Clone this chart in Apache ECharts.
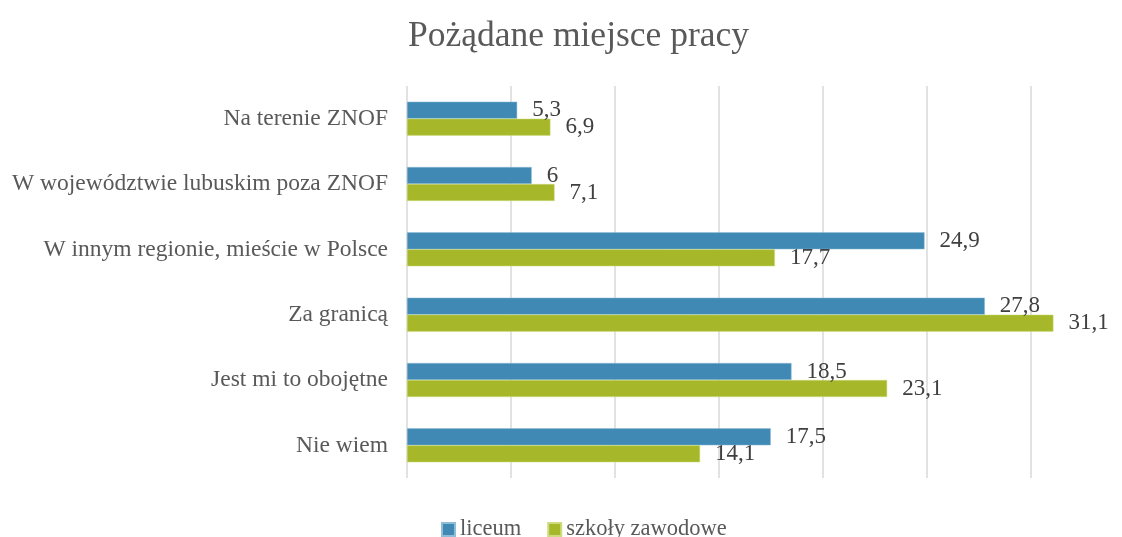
<!DOCTYPE html>
<html><head><meta charset="utf-8">
<script src="https://cdn.jsdelivr.net/npm/echarts@6/dist/echarts.min.js"></script>
<style>html,body{margin:0;padding:0;background:#fff}#c{width:1122px;height:537px}</style>
</head><body><div id="c"></div>
<script>
const categories = ["Na terenie ZNOF","W województwie lubuskim poza ZNOF","W innym regionie, mieście w Polsce","Za granicą","Jest mi to obojętne","Nie wiem"];
const liceum = [5.3, 6, 24.9, 27.8, 18.5, 17.5];
const zawodowe = [6.9, 7.1, 17.7, 31.1, 23.1, 14.1];
const seriesNames = ["liceum","szkoły zawodowe"];

const FONT = "'Liberation Serif', 'DejaVu Serif', serif";
const chart = echarts.init(document.getElementById('c'));
const lbl = {show:true, position:'right', distance:15, color:'#404040', fontFamily:FONT, fontSize:23,
  formatter: p => String(p.value).replace('.', ',')};
chart.setOption({
  animation:false,
  title:{text:'Pożądane miejsce pracy', left:403, top:14,
    textStyle:{fontFamily:FONT, fontSize:35.5, fontWeight:'normal', color:'#595959'}},
  legend:{bottom:-9, left:436, itemWidth:13, itemHeight:13, itemGap:26, icon:'rect',
    textStyle:{fontFamily:FONT, fontSize:22.5, color:'#595959'}, data:seriesNames},
  grid:{left:407, right:0, top:86, bottom:59, containLabel:false},
  xAxis:{type:'value', min:0, max:34.4, interval:5,
    axisLabel:{show:false}, axisLine:{show:false}, axisTick:{show:false},
    splitLine:{show:true, showMaxLine:false, lineStyle:{color:'#d9d9d9', width:1.5}}},
  yAxis:{type:'category', data:categories, inverse:true,
    axisLine:{show:false}, axisTick:{show:false},
    axisLabel:{margin:19, fontFamily:FONT, fontSize:23.5, color:'#595959'}},
  series:[
    {name:seriesNames[0], type:'bar', data:liceum, barGap:'0%', barCategoryGap:'48%',
     itemStyle:{color:'#3f89b4', borderColor:'#8fbcd6', borderWidth:0.5}, label:lbl},
    {name:seriesNames[1], type:'bar', data:zawodowe, barGap:'0%', barCategoryGap:'48%',
     itemStyle:{color:'#a6b82a', borderColor:'#cfdc7e', borderWidth:0.5}, label:lbl}
  ]
});
</script></body></html>
